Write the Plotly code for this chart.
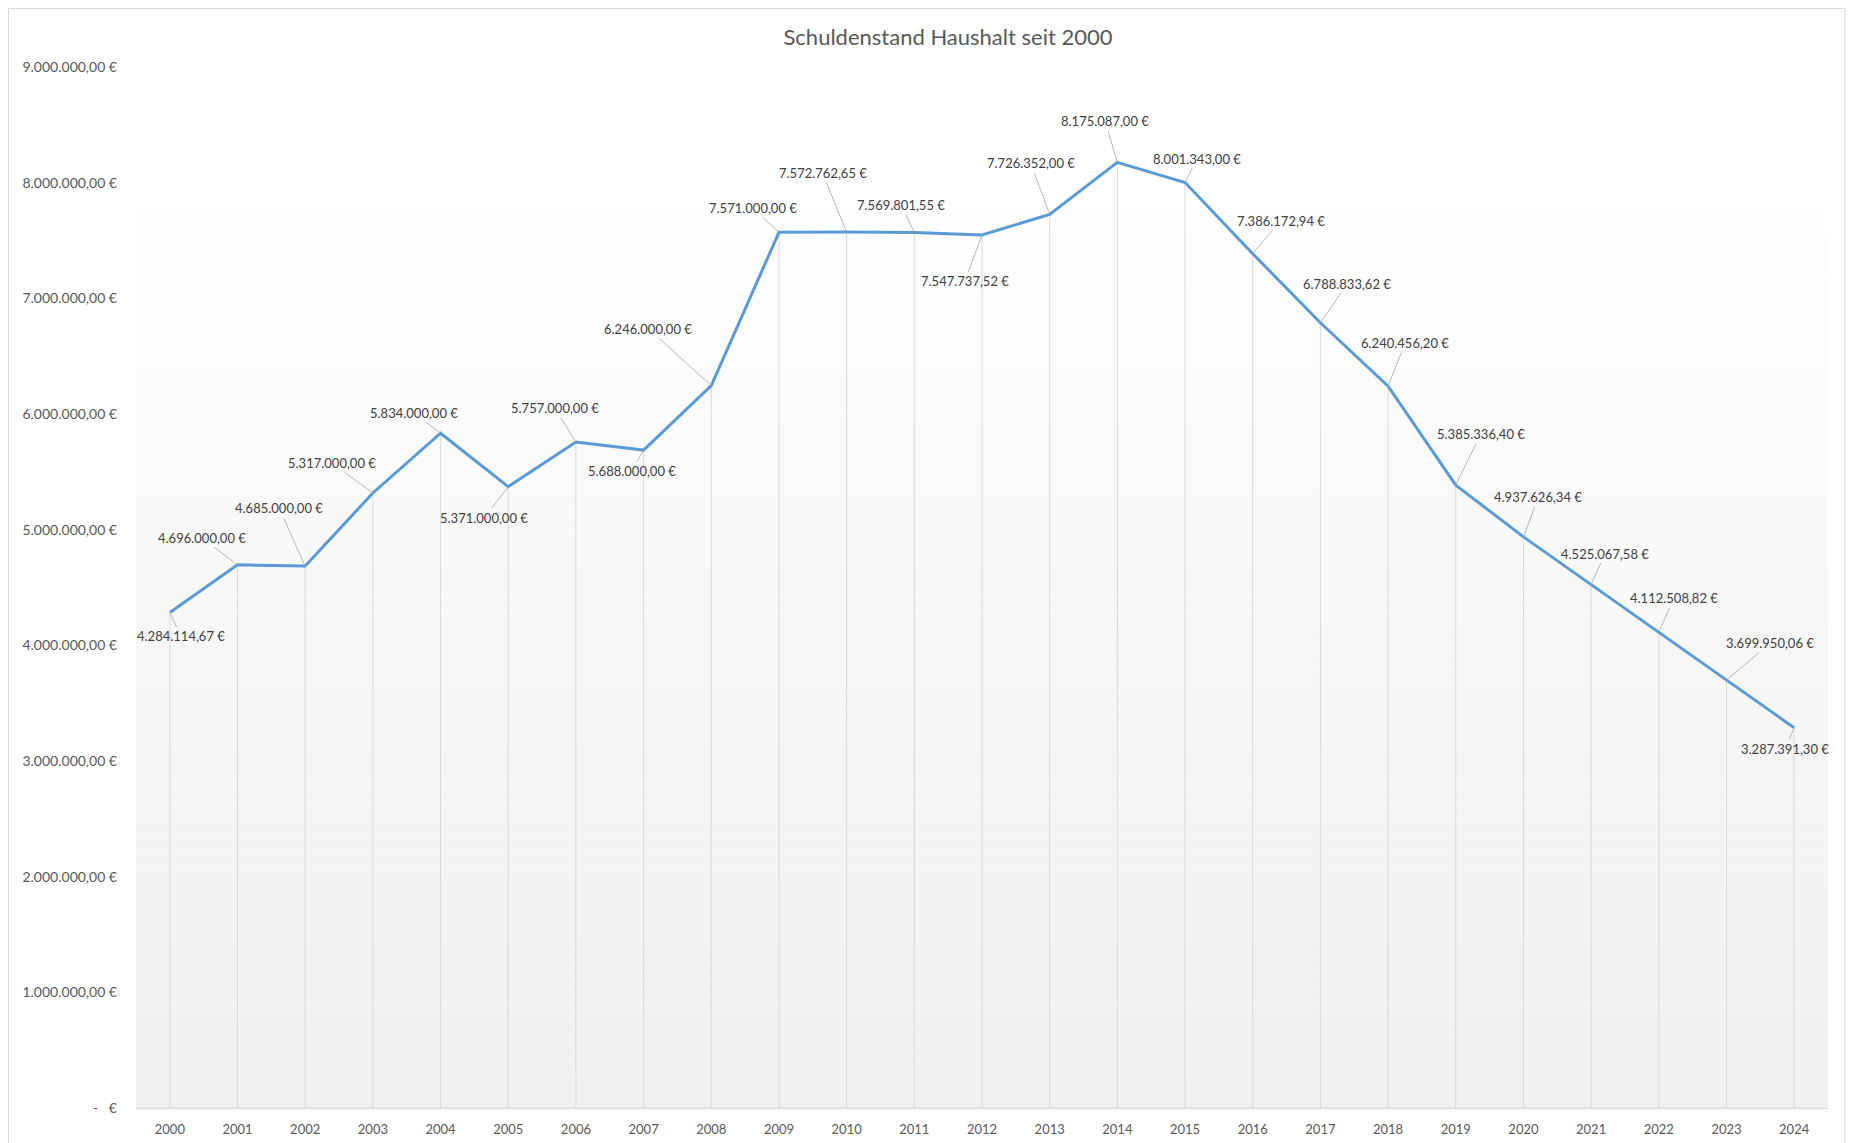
import plotly.graph_objects as go

years = list(range(2000, 2025))
values = [4284114.67, 4696000.00, 4685000.00, 5317000.00, 5834000.00, 5371000.00,
          5757000.00, 5688000.00, 6246000.00, 7571000.00, 7572762.65, 7569801.55,
          7547737.52, 7726352.00, 8175087.00, 8001343.00, 7386172.94, 6788833.62,
          6240456.20, 5385336.40, 4937626.34, 4525067.58, 4112508.82, 3699950.06,
          3287391.30]
value_labels = ["4.284.114,67 €", "4.696.000,00 €", "4.685.000,00 €", "5.317.000,00 €",
                "5.834.000,00 €", "5.371.000,00 €", "5.757.000,00 €", "5.688.000,00 €",
                "6.246.000,00 €", "7.571.000,00 €", "7.572.762,65 €", "7.569.801,55 €",
                "7.547.737,52 €", "7.726.352,00 €", "8.175.087,00 €", "8.001.343,00 €",
                "7.386.172,94 €", "6.788.833,62 €", "6.240.456,20 €", "5.385.336,40 €",
                "4.937.626,34 €", "4.525.067,58 €", "4.112.508,82 €", "3.699.950,06 €",
                "3.287.391,30 €"]
# label offsets (pixels) relative to data point
label_dx = [11, -36, -26, -41, -27, -24, -21, -12, -63, -26, -24, -13, -17, -19, -12,
            12, 28, 27, 17, 25, 15, 14, 15, 44, -9]
label_dy = [24, -27, -58, -30, -20, 31, -34, 21, -57, -24, -59, -27, 46, -51, -41,
            -24, -33, -39, -43, -51, -40, -31, -34, -37, 21]

y_tickvals = [0, 1000000, 2000000, 3000000, 4000000, 5000000, 6000000, 7000000, 8000000, 9000000]
y_ticktext = [" -   €", "1.000.000,00 €", "2.000.000,00 €", "3.000.000,00 €", "4.000.000,00 €",
              "5.000.000,00 €", "6.000.000,00 €", "7.000.000,00 €", "8.000.000,00 €",
              "9.000.000,00 €"]
title_text = "Schuldenstand Haushalt seit 2000"

W, H = 1855, 1143
ml, mr, mt, mb = 128, 35, 59, 43
pw, ph = W - ml - mr, H - mt - mb

FONT = "Lato, 'Open Sans', sans-serif"

fig = go.Figure()

# drop lines
dx, dy = [], []
for x, v in zip(years, values):
    dx += [x, x, None]
    dy += [0, v, None]
fig.add_trace(go.Scatter(x=dx, y=dy, mode="lines",
                         line=dict(color="#d9d9d9", width=1), hoverinfo="skip",
                         showlegend=False))

fig.add_trace(go.Scatter(x=years, y=values, mode="lines",
                         line=dict(color="#5b9bd5", width=3), showlegend=False,
                         name="Schuldenstand"))

for x, v, t, ax, ay in zip(years, values, value_labels, label_dx, label_dy):
    fig.add_annotation(x=x, y=v, xref="x", yref="y", text=t, showarrow=True,
                       ax=ax, ay=ay, arrowhead=0, arrowwidth=0.8, arrowcolor="#a6a6a6",
                       standoff=0, startstandoff=0,
                       font=dict(family=FONT, size=13, color="#404040"))

# gradient plot background (bands)
n = 60
top = (H - mb - 195) / ph
c0, c1 = 254, 240
for i in range(n):
    y0 = top * i / n
    y1 = top * (i + 1) / n
    c = round(c1 + (c0 - c1) * (i + 0.5) / n)
    fig.add_shape(type="rect", xref="paper", yref="paper", x0=0, x1=1, y0=y0, y1=y1,
                  line=dict(width=0), fillcolor=f"rgb({c},{c},{c})", layer="below")

# chart border (bottom edge falls outside the page)
fig.add_shape(type="rect", xref="paper", yref="paper",
              x0=(0.5 - ml) / pw, x1=(1837 - ml) / pw,
              y0=-(H + 20 - (H - mb)) / ph, y1=1 + (mt - 0.5) / ph,
              line=dict(color="#d9d9d9", width=1), fillcolor="rgba(0,0,0,0)")

fig.update_layout(
    width=W, height=H,
    margin=dict(l=ml, r=mr, t=mt, b=mb),
    paper_bgcolor="white", plot_bgcolor="rgba(0,0,0,0)",
    title=dict(text=title_text, x=940 / W, xanchor="center", y=1 - 29 / H, yanchor="middle",
               font=dict(family=FONT, size=22, color="#595959")),
    font=dict(family=FONT, color="#595959"),
    xaxis=dict(range=[1999.5, 2024.5], tickvals=years, ticktext=[str(y) for y in years],
               showgrid=False, zeroline=False, showline=True, linecolor="#d9d9d9",
               linewidth=1, ticks="", ticklabelstandoff=9,
               tickfont=dict(size=13, color="#595959")),
    yaxis=dict(range=[0, 9000000], tickvals=y_tickvals, ticktext=y_ticktext,
               showgrid=False, zeroline=False, showline=False, ticks="",
               ticklabelstandoff=18,
               tickfont=dict(size=14, color="#595959")),
)

fig.write_html("out.html")
